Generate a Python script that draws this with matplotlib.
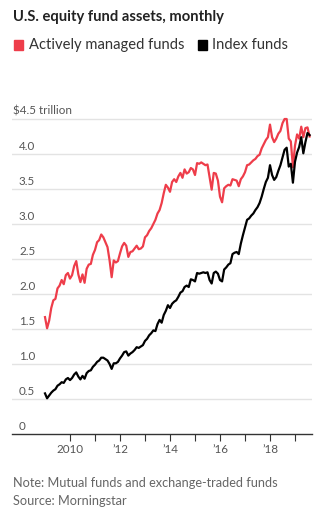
import numpy as np
import matplotlib
matplotlib.use("Agg")
import matplotlib.pyplot as plt

plt.rcParams['font.family'] = ['Lato', 'DejaVu Sans']

# Monthly assets, $ trillion, Jan 2009 - Aug 2019
active = [
    1.67, 1.51, 1.62, 1.80, 1.91, 1.93, 2.08, 2.12, 2.20, 2.14, 2.27, 2.30,   # 2009
    2.22, 2.27, 2.40, 2.47, 2.28, 2.17, 2.28, 2.16, 2.36, 2.42, 2.43, 2.56,   # 2010
    2.63, 2.74, 2.77, 2.85, 2.81, 2.74, 2.67, 2.48, 2.24, 2.48, 2.45, 2.47,   # 2011
    2.58, 2.68, 2.73, 2.69, 2.53, 2.60, 2.61, 2.65, 2.69, 2.64, 2.65, 2.68,   # 2012
    2.81, 2.84, 2.90, 2.94, 3.00, 3.06, 3.15, 3.20, 3.30, 3.44, 3.56, 3.52,   # 2013
    3.46, 3.60, 3.64, 3.60, 3.68, 3.73, 3.66, 3.78, 3.72, 3.74, 3.80, 3.78,   # 2014
    3.70, 3.87, 3.86, 3.88, 3.86, 3.84, 3.85, 3.67, 3.49, 3.73, 3.72, 3.62,   # 2015
    3.39, 3.31, 3.51, 3.54, 3.56, 3.55, 3.64, 3.63, 3.62, 3.54, 3.64, 3.68,   # 2016
    3.74, 3.84, 3.85, 3.88, 3.91, 3.93, 3.97, 3.99, 4.08, 4.14, 4.20, 4.24,   # 2017
    4.42, 4.24, 4.17, 4.22, 4.29, 4.33, 4.44, 4.50, 4.50, 4.22, 4.18, 3.81,   # 2018
    4.12, 4.28, 4.22, 4.39, 4.24, 4.37, 4.38, 4.25,                           # 2019
]
index = [
    0.58, 0.51, 0.55, 0.59, 0.62, 0.64, 0.69, 0.71, 0.74, 0.73, 0.78, 0.80,   # 2009
    0.77, 0.80, 0.85, 0.88, 0.82, 0.78, 0.83, 0.79, 0.87, 0.90, 0.91, 0.96,   # 2010
    0.99, 1.03, 1.05, 1.09, 1.09, 1.07, 1.05, 1.00, 0.93, 1.01, 1.01, 1.03,   # 2011
    1.08, 1.12, 1.17, 1.18, 1.12, 1.15, 1.17, 1.20, 1.24, 1.23, 1.25, 1.27,   # 2012
    1.33, 1.36, 1.41, 1.44, 1.48, 1.47, 1.57, 1.63, 1.59, 1.70, 1.76, 1.84,   # 2013
    1.80, 1.86, 1.89, 1.91, 1.96, 2.02, 2.04, 2.10, 2.12, 2.10, 2.21, 2.20,   # 2014
    2.18, 2.30, 2.29, 2.30, 2.31, 2.30, 2.31, 2.20, 2.15, 2.30, 2.32, 2.29,   # 2015
    2.20, 2.18, 2.35, 2.38, 2.42, 2.44, 2.57, 2.59, 2.60, 2.57, 2.72, 2.84,   # 2016
    2.95, 3.06, 3.08, 3.12, 3.15, 3.20, 3.24, 3.30, 3.39, 3.50, 3.60, 3.66,   # 2017
    3.84, 3.70, 3.63, 3.67, 3.76, 3.84, 3.95, 4.06, 4.09, 3.82, 3.86, 3.59,   # 2018
    3.89, 4.02, 4.10, 4.24, 4.01, 4.17, 4.30, 4.27,                           # 2019
]
start_year = 2009
y_ticks = [0, 0.5, 1.0, 1.5, 2.0, 2.5, 3.0, 3.5, 4.0, 4.5]
y_tick_labels = ["0", "0.5", "1.0", "1.5", "2.0", "2.5", "3.0", "3.5", "4.0", "$4.5 trillion"]
x_major = [2010, 2012, 2014, 2016, 2018]
x_major_labels = ["2010", "\u201912", "\u201914", "\u201916", "\u201918"]
x_minor = [2011, 2013, 2015, 2017, 2019]

RED = "#ee3d4a"
GRID = "#e3e3e3"
TICK_TXT = "#555555"

t = start_year + np.arange(len(active)) / 12.0

W, H = 324, 518
fig = plt.figure(figsize=(W / 100, H / 100), dpi=100)

ax_left, ax_right = 12, 312
ax_bottom, ax_top = 434, 112
ax = fig.add_axes([ax_left / W, (H - ax_bottom) / H,
                   (ax_right - ax_left) / W, (ax_bottom - ax_top) / H])
ax.set_xlim(2007.68, 2019.68)
ax.set_ylim(0, 4.6)

for s in ["top", "right", "left"]:
    ax.spines[s].set_visible(False)
ax.spines["bottom"].set_color("#333333")
ax.spines["bottom"].set_linewidth(1.0)

# horizontal gridlines with labels sitting above them
ax.set_yticks([])
for v, lab in zip(y_ticks, y_tick_labels):
    if v > 0:
        ax.axhline(v, color=GRID, lw=1.0, zorder=0)
    ax.annotate(lab, xy=(0, v), xycoords=("axes fraction", "data"),
                xytext=(7 if not lab.startswith("$") else 1, 2),
                textcoords="offset pixels", ha="left", va="bottom",
                fontsize=8.4, color=TICK_TXT)

ax.set_xticks(x_major)
ax.set_xticklabels(x_major_labels)
ax.set_xticks(x_minor, minor=True)
ax.tick_params(axis="x", which="both", length=5, width=0.8, color="#333333",
               labelsize=8.4, labelcolor=TICK_TXT, pad=2)

ax.plot(t, active, color=RED, lw=1.6, solid_joinstyle="round", zorder=3)
ax.plot(t, index, color="black", lw=1.6, solid_joinstyle="round", zorder=4)

# title and legend
fig.text(13 / W, 1 - 17 / H, "U.S. equity fund assets, monthly", ha="left",
         va="center", fontsize=10.6, fontweight="bold", color="#222222")
fig.patches.append(plt.Rectangle((14 / W, 1 - 50 / H), 8.5 / W, 10 / H,
                                 transform=fig.transFigure, color=RED))
fig.text(29 / W, 1 - 45 / H, "Actively managed funds", ha="left", va="center",
         fontsize=10.6, color="#333333")
fig.patches.append(plt.Rectangle((198 / W, 1 - 50 / H), 8.5 / W, 10 / H,
                                 transform=fig.transFigure, color="black"))
fig.text(212 / W, 1 - 45 / H, "Index funds", ha="left", va="center",
         fontsize=10.6, color="#333333")

# footnotes
fig.text(13 / W, 1 - 483 / H, "Note: Mutual funds and exchange-traded funds",
         ha="left", va="center", fontsize=9.2, color="#666666")
fig.text(13 / W, 1 - 501 / H, "Source: Morningstar",
         ha="left", va="center", fontsize=9.2, color="#666666")

fig.savefig("out.png", dpi=100, facecolor="white")
